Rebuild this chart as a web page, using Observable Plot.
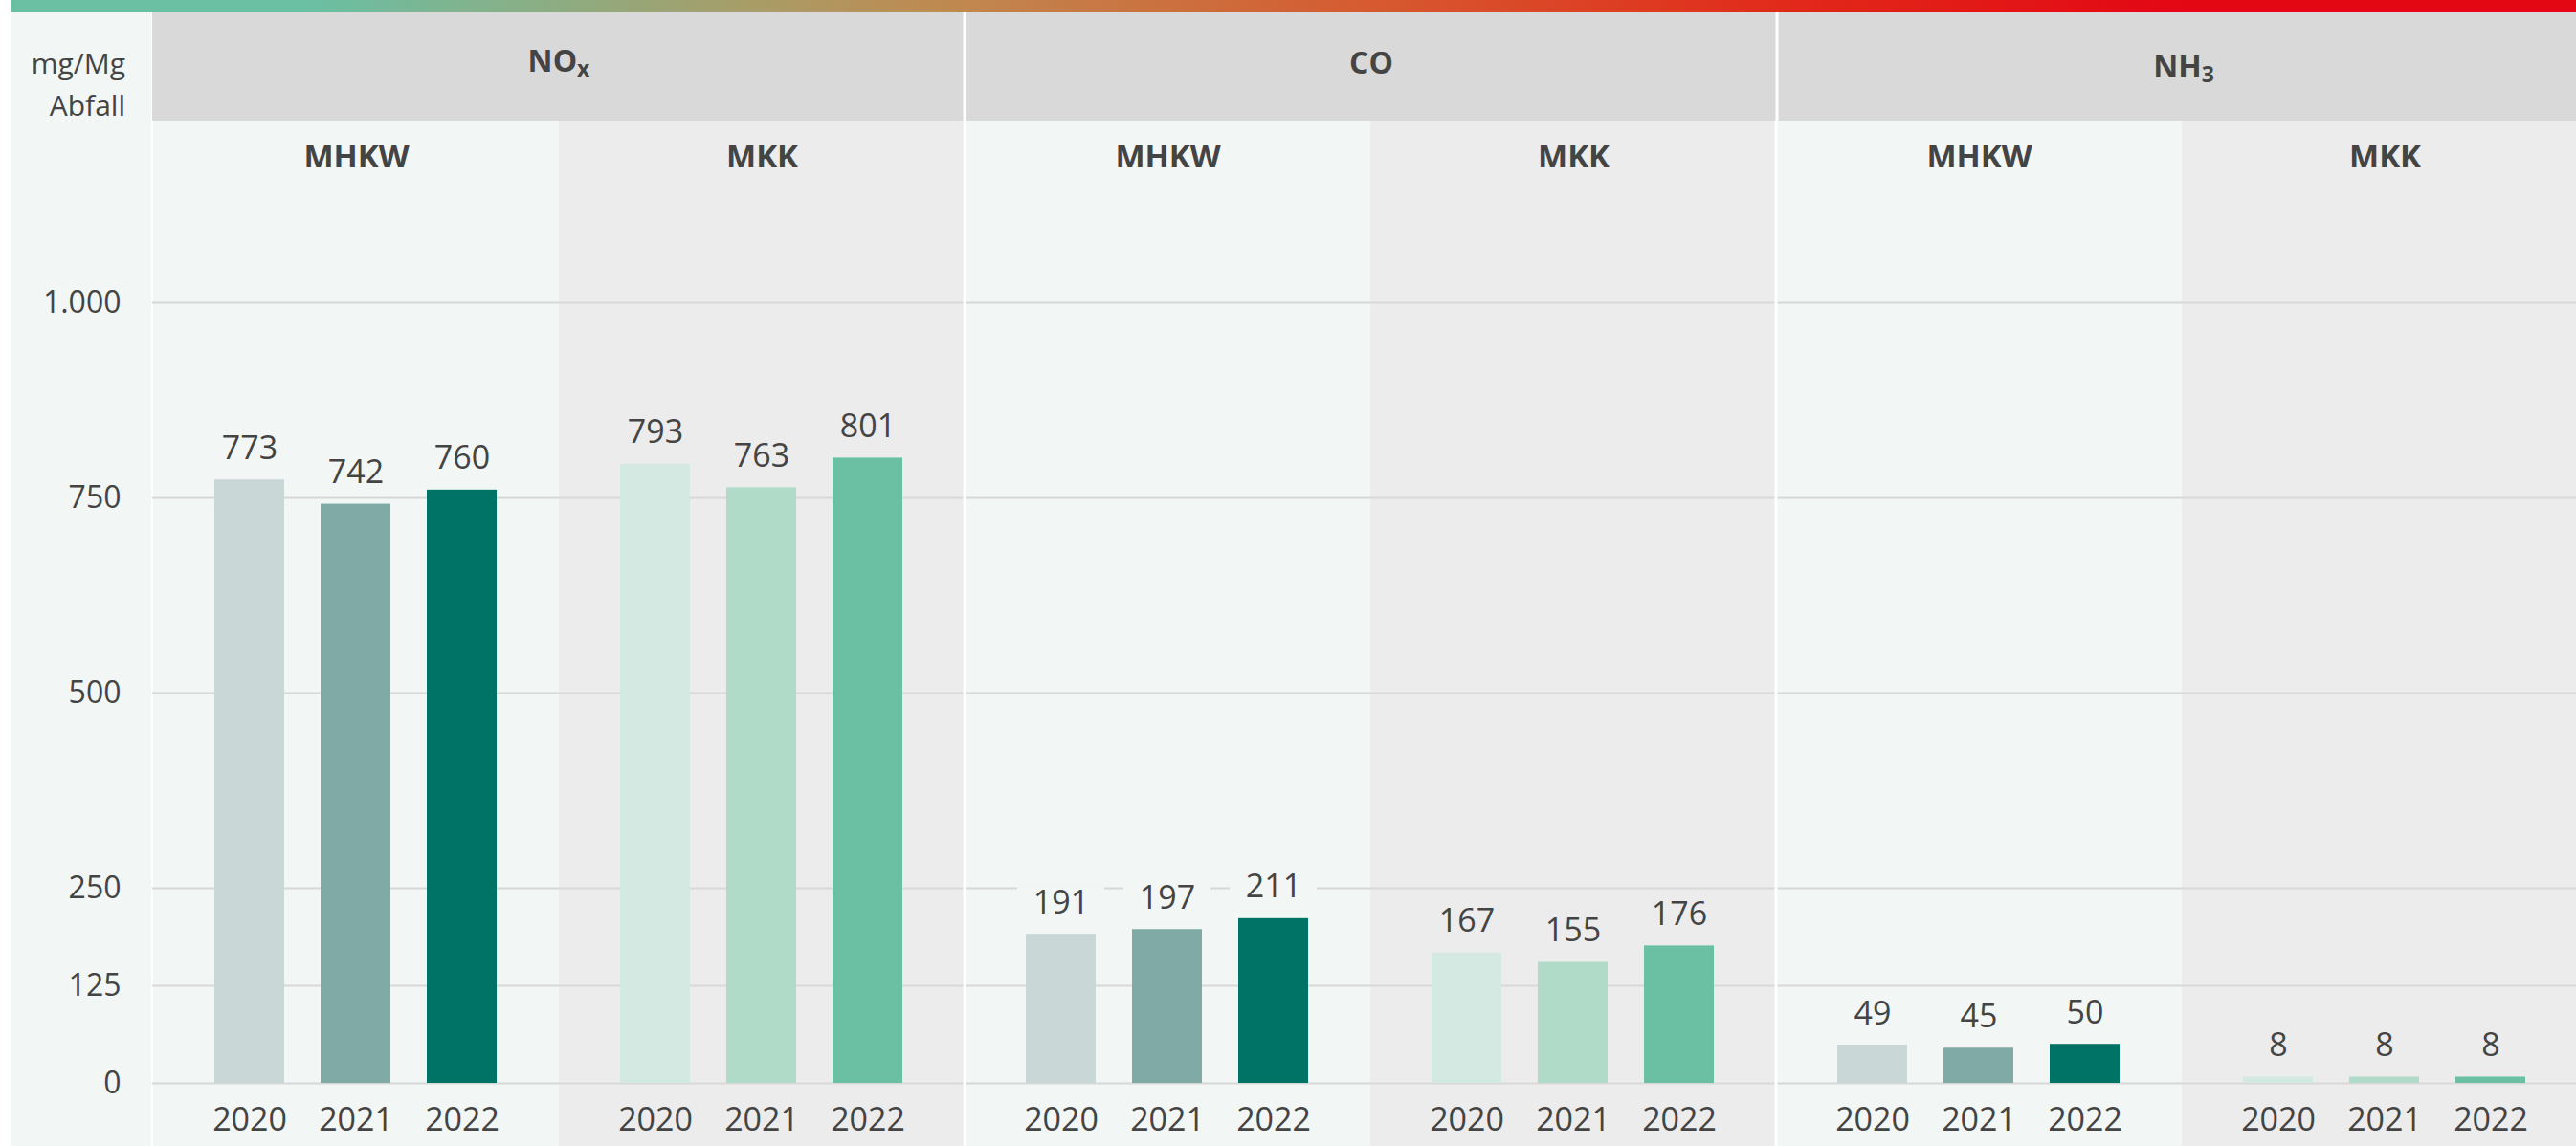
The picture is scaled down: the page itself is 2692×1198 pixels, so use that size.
<!DOCTYPE html>
<html>
<head>
<meta charset="utf-8">
<script src="https://cdn.jsdelivr.net/npm/d3@7"></script>
<script src="https://cdn.jsdelivr.net/npm/@observablehq/plot@0.6"></script>
<style>
  html, body { margin: 0; padding: 0; background: #ffffff; }
  body { width: 2692px; height: 1198px; overflow: hidden; position: relative; font-family: 'Open Sans', 'Noto Sans', sans-serif; }
  #grad { position: absolute; left: 11px; top: 0; width: 2681px; height: 13px;
    background: linear-gradient(90deg, #6bbfa3 0%, #6bbfa3 11.9%, #aa9c65 29.4%, #c0884f 36.9%, #d65a30 53%, #e12a1a 69.1%, #e30613 85.2%, #e30613 100%); }
  #strip { position: absolute; left: 11px; top: 13px; width: 147px; height: 1185px; background: #f2f7f5; }
  #unit { position: absolute; left: 11px; top: 44px; width: 120px; text-align: right;
    font-size: 30px; line-height: 44px; color: #444444; white-space: pre; }
  #header { position: absolute; left: 0; top: 13px; width: 2692px; height: 113px; }
  #chart { position: absolute; left: 0; top: 126px; width: 2692px; height: 1072px; }
</style>
</head>
<body>
<div id="grad"></div>
<div id="strip"></div>
<div id="unit"></div>
<div id="header"></div>
<div id="chart"></div>
<script>
// ---- data ----
const pollutants = ["NOx", "CO", "NH3"];
const plants = ["MHKW", "MKK"];
const years = ["2020", "2021", "2022"];
const noxMHKW = [773, 742, 760];
const noxMKK = [793, 763, 801];
const coMHKW = [191, 197, 211];
const coMKK = [167, 155, 176];
const nh3MHKW = [49, 45, 50];
const nh3MKK = [8, 8, 8];
const yTicks = [0, 125, 250, 500, 750, 1000];
const unitLabel = "mg/Mg\nAbfall";
const seriesKeys = ["MHKW 2020", "MHKW 2021", "MHKW 2022", "MKK 2020", "MKK 2021", "MKK 2022"];
const seriesColors = ["#c9d7d6", "#80aaa6", "#007367", "#d4e9e1", "#b0dbc9", "#6bc0a4"];

// ---- styling ----
const textColor = "#444444";
const bgByPlant = {MHKW: "#f2f7f5", MKK: "#ececec"};
const headerFill = "#d9d9d9";
const gridColor = "#d8d8d8";
const fxRange = [158, 2706];
const fontFamily = "'Open Sans', 'Noto Sans', sans-serif";
const headerDy = {NOx: -5.5, CO: -3, NH3: 1};
const fmtDE = d3.formatLocale({decimal: ",", thousands: ".", grouping: [3], currency: ["", " €"]}).format(",d");

// ---- derived tables ----
const valueTable = {
  NOx: {MHKW: noxMHKW, MKK: noxMKK},
  CO: {MHKW: coMHKW, MKK: coMKK},
  NH3: {MHKW: nh3MHKW, MKK: nh3MKK}
};
const panels = pollutants.flatMap(pol => plants.map(pl => ({key: `${pol}|${pl}`, pollutant: pol, plant: pl})));
const data = panels.flatMap(p => years.map((yr, i) => ({
  key: p.key, plant: p.plant, year: yr, series: `${p.plant} ${yr}`,
  value: valueTable[p.pollutant][p.plant][i]
})));

function insets(p) {
  const first = p.pollutant === pollutants[0];
  const last = p.pollutant === pollutants[pollutants.length - 1];
  if (p.plant === plants[0]) return {l: first ? 0 : 1.5, r: 0, first};
  return {l: 0, r: last ? 0 : 1.5, first: false};
}

const panelMarks = panels.flatMap(p => {
  const {l, r, first} = insets(p);
  return [
    Plot.rect([p], {fx: "key", fill: bgByPlant[p.plant], insetLeft: l, insetRight: r}),
    Plot.ruleY(yTicks.map(v => ({key: p.key, v})), {
      fx: "key", y: "v", stroke: gridColor, strokeWidth: 2,
      insetLeft: first ? -1 : l, insetRight: r
    })
  ];
});

// ---- main chart ----
const chart = Plot.plot({
  width: 2692,
  height: 1072,
  marginLeft: 158, marginRight: 0, marginTop: 0, marginBottom: 0,
  style: {background: "transparent", fontFamily, color: textColor},
  fx: {domain: panels.map(p => p.key), range: fxRange, padding: 0, axis: null},
  x: {type: "band", domain: years, paddingInner: 0.34, paddingOuter: 0.565, axis: null},
  y: {domain: [0, 1000], range: [1006, 190]},
  color: {type: "ordinal", domain: seriesKeys, range: seriesColors},
  marks: [
    ...panelMarks,
    Plot.barY(data, {fx: "key", x: "year", y: "value", fill: "series"}),
    ...plants.map(pl => Plot.barY(data.filter(d => d.plant === pl), {
      fx: "key", x: "year", y1: "value", y2: "value",
      insetTop: -49, insetBottom: 22, insetLeft: -9, insetRight: -9,
      fill: bgByPlant[pl]
    })),
    Plot.text(data, {
      fx: "key", x: "year", y: "value", text: d => fmtDE(d.value),
      lineAnchor: "bottom", dy: -22, fontSize: 34, fill: textColor
    }),
    Plot.text(data, {
      fx: "key", x: "year", text: "year", frameAnchor: "bottom",
      lineAnchor: "middle", dy: -27, fontSize: 34, fill: textColor
    }),
    Plot.text(panels, {
      fx: "key", text: "plant", frameAnchor: "top", lineAnchor: "middle",
      dy: 37.5, fontSize: 33, fontWeight: "bold", fill: textColor
    }),
    Plot.axisY({ticks: yTicks, tickFormat: fmtDE, tickSize: 0, tickPadding: 34, fontSize: 32, color: textColor, label: null})
  ]
});
document.getElementById("chart").appendChild(chart);

// ---- header (pollutant row) ----
const header = Plot.plot({
  width: 2692,
  height: 113,
  marginLeft: 158, marginRight: 0, marginTop: 0, marginBottom: 0,
  style: {background: "transparent", fontFamily, color: textColor},
  fx: {domain: pollutants, range: fxRange, padding: 0, axis: null},
  marks: [
    ...pollutants.map((pol, i) => Plot.rect([pol], {
      fx: d => d, fill: headerFill,
      insetLeft: i === 0 ? 0 : 1.5, insetRight: i === pollutants.length - 1 ? 0 : 1.5
    })),
    ...pollutants.map(pol => Plot.text([pol], {
      fx: d => d, text: d => d, frameAnchor: "middle", lineAnchor: "middle",
      dy: headerDy[pol], fontSize: 32, fontWeight: "bold", fill: textColor
    }))
  ]
});
document.getElementById("header").appendChild(header);

// unit label (left of the header row)
document.getElementById("unit").textContent = unitLabel;

// chemical subscripts (NOx, NH3)
d3.select(header).selectAll("text").each(function () {
  const m = (this.textContent || "").match(/^(NO|NH)(x|3)$/);
  if (m) {
    const sel = d3.select(this);
    sel.text(null);
    sel.append("tspan").text(m[1]);
    sel.append("tspan").attr("font-size", 23).attr("dy", 5).text(m[2]);
  }
});
</script>
</body>
</html>
